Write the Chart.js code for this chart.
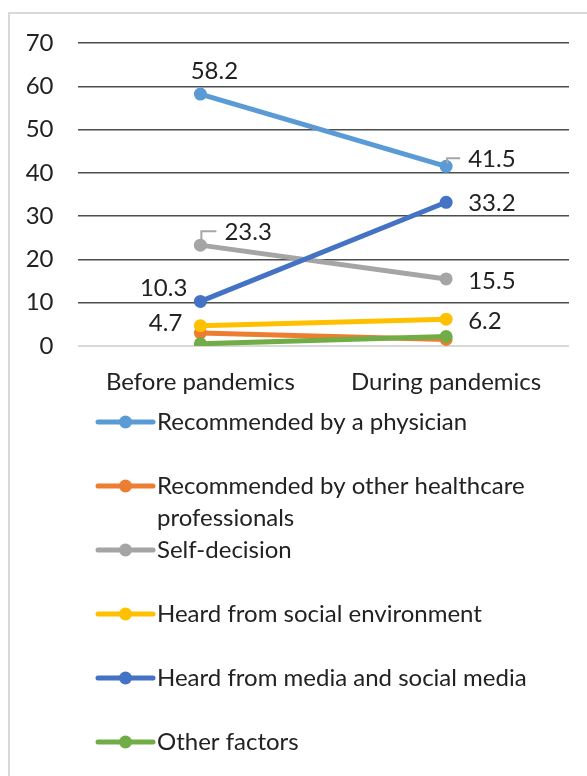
<!DOCTYPE html>
<html>
<head>
<meta charset="utf-8">
<script src="https://cdn.jsdelivr.net/npm/chart.js@4"></script>
<style>
  html, body { margin: 0; padding: 0; background: #fff; overflow: hidden; }
  #wrap { position: relative; width: 587px; height: 776px; }
  #frame { position: absolute; left: 8px; top: 12px; width: 620px; height: 800px;
           border: 2px solid #d9d9d9; box-sizing: border-box; }
  canvas { position: absolute; left: 0; top: 0; }
</style>
</head>
<body>
<div id="wrap">
  <div id="frame"></div>
  <canvas id="c" width="587" height="776"></canvas>
</div>
<script>
// Reasons for taking supplements, before vs. during the pandemic (%)
const categories = ['Before pandemics', 'During pandemics'];
const physician = [58.2, 41.5];
const otherHealthcare = [3.0, 1.5];
const selfDecision = [23.3, 15.5];
const socialEnvironment = [4.7, 6.2];
const media = [10.3, 33.2];
const otherFactors = [0.5, 2.2];
const yTicks = [0, 10, 20, 30, 40, 50, 60, 70];

const seriesNames = [
  'Recommended by a physician',
  'Recommended by other healthcare professionals',
  'Self-decision',
  'Heard from social environment',
  'Heard from media and social media',
  'Other factors'
];
const seriesValues = [physician, otherHealthcare, selfDecision, socialEnvironment, media, otherFactors];
const seriesColors = ['#5B9BD5', '#ED7D31', '#A5A5A5', '#FFC000', '#4472C4', '#70AD47'];

const FONT = 'Lato, "Open Sans", sans-serif';
const FONT_SIZE = 24;
const TEXT = '#222';

// Value-label placement per series/point (null = no label)
const labelPlacement = [
  [{ dx: 14, dy: -23, align: 'center' }, { dx: 22, dy: -7, align: 'left', leader: true }],
  [null, null],
  [{ dx: 24, dy: -13, align: 'left', leader: true }, { dx: 22, dy: 2, align: 'left' }],
  [{ dx: -18, dy: -2, align: 'right' }, { dx: 22, dy: 2, align: 'left' }],
  [{ dx: -13, dy: -13, align: 'right' }, { dx: 22, dy: 1, align: 'left' }],
  [null, null]
];

const datasets = seriesNames.map((name, i) => ({
  label: name,
  data: seriesValues[i],
  borderColor: seriesColors[i],
  backgroundColor: seriesColors[i],
  pointBackgroundColor: seriesColors[i],
  pointBorderWidth: 0,
  pointRadius: 6.5,
  borderWidth: 5,
  borderCapStyle: 'round',
  tension: 0,
  order: -i
}));

const valueLabels = {
  id: 'valueLabels',
  afterDatasetsDraw(chart) {
    const ctx = chart.ctx;
    ctx.save();
    ctx.font = FONT_SIZE + 'px ' + FONT;
    ctx.fillStyle = TEXT;
    ctx.textBaseline = 'middle';
    chart.data.datasets.forEach((ds, di) => {
      const meta = chart.getDatasetMeta(di);
      meta.data.forEach((pt, pi) => {
        const p = labelPlacement[di][pi];
        if (!p) return;
        const x = pt.x + p.dx, y = pt.y + p.dy;
        if (p.leader) {
          ctx.strokeStyle = '#a6a6a6';
          ctx.lineWidth = 2;
          ctx.beginPath();
          ctx.moveTo(pt.x + 1, pt.y - 3);
          ctx.lineTo(pt.x + 1, y - 1);
          ctx.lineTo(x - 8, y - 1);
          ctx.stroke();
        }
        ctx.textAlign = p.align;
        ctx.fillText(ds.data[pi].toFixed(1), x, y);
      });
    });
    ctx.restore();
  }
};

// Vertical legend below the plot, one 64px slot per series, wrapped text
const slotLegend = {
  id: 'slotLegend',
  afterDraw(chart) {
    const ctx = chart.ctx;
    const top = chart.chartArea.bottom + 60;
    const slot = 64, lineH = 32, maxW = 400;
    const x0 = 98, x1 = 153, tx = 157;
    ctx.save();
    ctx.font = FONT_SIZE + 'px ' + FONT;
    ctx.textBaseline = 'middle';
    ctx.textAlign = 'left';
    chart.data.datasets.forEach((ds, i) => {
      const y = top + i * slot + 16;
      ctx.strokeStyle = ds.borderColor;
      ctx.lineWidth = 5;
      ctx.lineCap = 'round';
      ctx.beginPath();
      ctx.moveTo(x0, y);
      ctx.lineTo(x1, y);
      ctx.stroke();
      ctx.fillStyle = ds.borderColor;
      ctx.beginPath();
      ctx.arc((x0 + x1) / 2, y, 6.5, 0, Math.PI * 2);
      ctx.fill();
      // word wrap
      const words = ds.label.split(' ');
      const lines = [];
      let cur = '';
      words.forEach(w => {
        const t = cur ? cur + ' ' + w : w;
        if (ctx.measureText(t).width > maxW && cur) { lines.push(cur); cur = w; }
        else cur = t;
      });
      lines.push(cur);
      ctx.fillStyle = TEXT;
      lines.forEach((ln, k) => ctx.fillText(ln, tx, y + k * lineH));
    });
    ctx.restore();
  }
};

new Chart(document.getElementById('c'), {
  type: 'line',
  data: { labels: categories, datasets },
  options: {
    responsive: false,
    animation: false,
    layout: { padding: { left: 0, top: 43, right: 18, bottom: 370 } },
    plugins: { legend: { display: false }, tooltip: { enabled: false } },
    scales: {
      x: {
        offset: true,
        grid: { display: false, drawTicks: false },
        border: { display: false },
        ticks: { color: TEXT, font: { family: FONT, size: FONT_SIZE }, padding: 22 },
        afterFit(s) { s.height = 60; }
      },
      y: {
        min: 0, max: 70,
        afterBuildTicks(s) { s.ticks = yTicks.map(v => ({ value: v })); },
        grid: {
          drawTicks: false,
          color: c => c.tick && c.tick.value === 0 ? '#d9d9d9' : '#4d4d4d',
          lineWidth: c => c.tick && c.tick.value === 0 ? 2 : 1.5
        },
        border: { display: false },
        ticks: { color: TEXT, font: { family: FONT, size: FONT_SIZE }, padding: 24 },
        afterFit(s) { s.width = 77.5; }
      }
    }
  },
  plugins: [valueLabels, slotLegend]
});
</script>
</body>
</html>
